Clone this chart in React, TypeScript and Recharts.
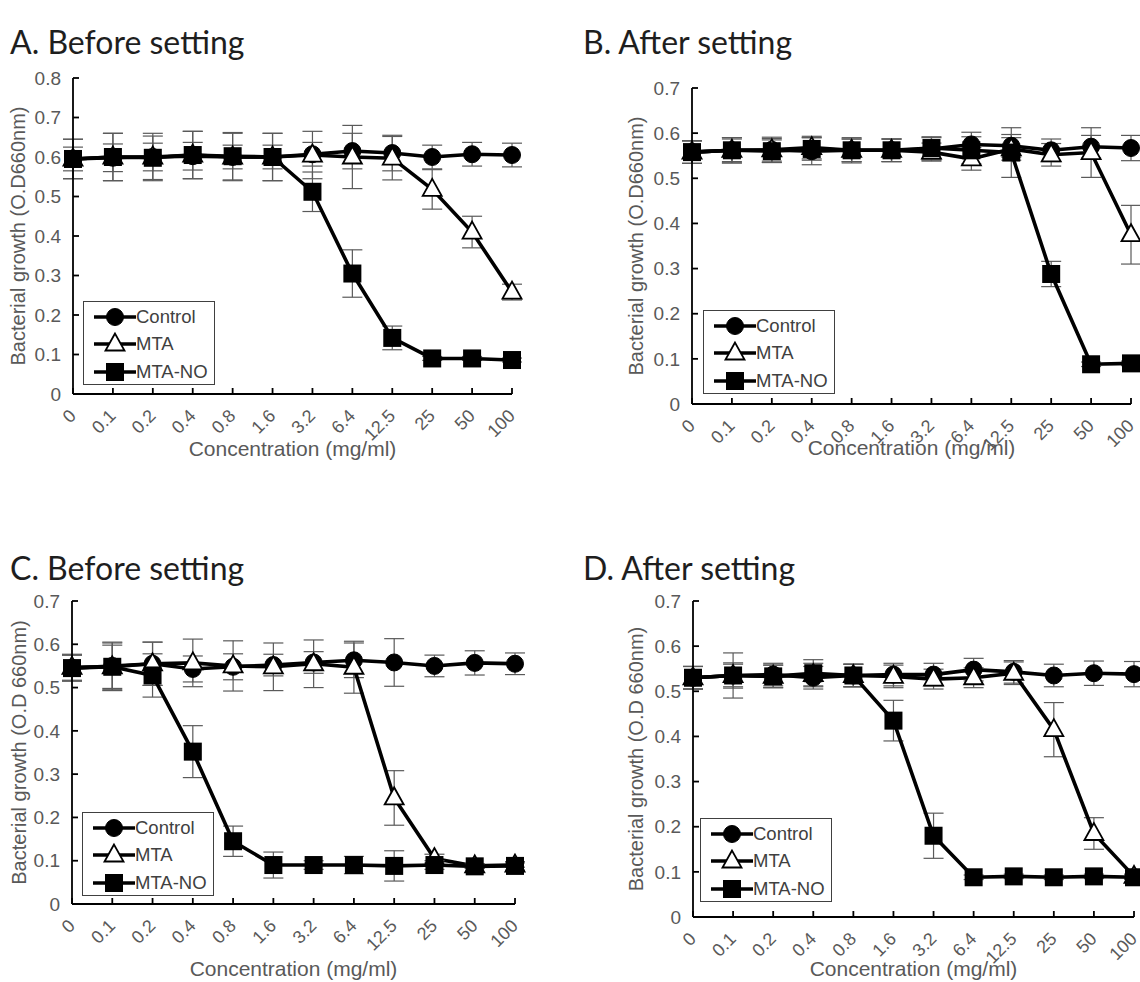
import React from 'react';
import { LineChart, Line, XAxis, YAxis, ErrorBar, Legend } from 'recharts';

// ---- data ----
const concentrations = ['0', '0.1', '0.2', '0.4', '0.8', '1.6', '3.2', '6.4', '12.5', '25', '50', '100'];
const seriesNames = ['Control', 'MTA', 'MTA-NO'];

// A. Before setting
const aControl = [0.595, 0.598, 0.6, 0.602, 0.6, 0.6, 0.607, 0.615, 0.61, 0.6, 0.607, 0.605];
const aControlErr = [0.03, 0.035, 0.035, 0.035, 0.03, 0.03, 0.03, 0.045, 0.045, 0.03, 0.03, 0.03];
const aMta = [0.595, 0.6, 0.6, 0.605, 0.6, 0.6, 0.605, 0.6, 0.597, 0.518, 0.41, 0.258];
const aMtaErr = [0.05, 0.06, 0.06, 0.06, 0.06, 0.06, 0.06, 0.08, 0.055, 0.05, 0.04, 0.02];
const aNo = [0.595, 0.6, 0.598, 0.605, 0.602, 0.6, 0.512, 0.305, 0.142, 0.09, 0.09, 0.086];
const aNoErr = [0.05, 0.06, 0.055, 0.06, 0.06, 0.06, 0.05, 0.06, 0.03, 0.005, 0.005, 0.005];

// B. After setting
const bControl = [0.558, 0.562, 0.563, 0.56, 0.562, 0.562, 0.565, 0.575, 0.572, 0.562, 0.57, 0.567];
const bControlErr = [0.025, 0.028, 0.028, 0.03, 0.028, 0.025, 0.025, 0.027, 0.025, 0.025, 0.025, 0.028];
const bMta = [0.558, 0.562, 0.563, 0.568, 0.562, 0.562, 0.558, 0.543, 0.565, 0.552, 0.557, 0.375];
const bMtaErr = [0.025, 0.025, 0.025, 0.025, 0.025, 0.025, 0.02, 0.025, 0.025, 0.025, 0.055, 0.065];
const bNo = [0.558, 0.562, 0.56, 0.565, 0.562, 0.562, 0.567, 0.562, 0.557, 0.288, 0.088, 0.09];
const bNoErr = [0.025, 0.028, 0.025, 0.025, 0.025, 0.025, 0.025, 0.03, 0.055, 0.028, 0.005, 0.005];

// C. Before setting
const cControl = [0.545, 0.55, 0.555, 0.543, 0.548, 0.552, 0.558, 0.563, 0.558, 0.55, 0.557, 0.555];
const cControlErr = [0.03, 0.055, 0.05, 0.03, 0.03, 0.025, 0.025, 0.04, 0.055, 0.025, 0.028, 0.025];
const cMta = [0.547, 0.548, 0.555, 0.557, 0.55, 0.548, 0.555, 0.547, 0.245, 0.105, 0.088, 0.09];
const cMtaErr = [0.03, 0.055, 0.05, 0.055, 0.058, 0.055, 0.055, 0.06, 0.063, 0.01, 0.005, 0.005];
const cNo = [0.545, 0.548, 0.528, 0.352, 0.145, 0.09, 0.09, 0.09, 0.088, 0.09, 0.087, 0.088];
const cNoErr = [0.03, 0.05, 0.05, 0.06, 0.035, 0.03, 0.01, 0.02, 0.035, 0.01, 0.005, 0.01];

// D. After setting
const dControl = [0.53, 0.535, 0.537, 0.53, 0.535, 0.537, 0.537, 0.548, 0.543, 0.535, 0.54, 0.538];
const dControlErr = [0.025, 0.028, 0.025, 0.025, 0.025, 0.025, 0.025, 0.025, 0.025, 0.025, 0.027, 0.028];
const dMta = [0.53, 0.535, 0.533, 0.537, 0.535, 0.533, 0.527, 0.53, 0.54, 0.415, 0.185, 0.09];
const dMtaErr = [0.025, 0.025, 0.025, 0.025, 0.025, 0.025, 0.022, 0.022, 0.025, 0.06, 0.035, 0.005];
const dNo = [0.53, 0.535, 0.533, 0.54, 0.535, 0.435, 0.18, 0.088, 0.09, 0.088, 0.09, 0.088];
const dNoErr = [0.025, 0.05, 0.025, 0.03, 0.025, 0.045, 0.05, 0.005, 0.005, 0.005, 0.005, 0.005];

const ticksA = [0, 0.1, 0.2, 0.3, 0.4, 0.5, 0.6, 0.7, 0.8];
const ticksBCD = [0, 0.1, 0.2, 0.3, 0.4, 0.5, 0.6, 0.7];

const ARIAL = "'Liberation Sans', Arial, sans-serif";
const TEXT_GREY = '#595959';

const buildRows = (ctrl: number[], ctrlErr: number[], mta: number[], mtaErr: number[], no: number[], noErr: number[]) =>
  concentrations.map((c, i) => ({
    c,
    control: ctrl[i], controlErr: ctrlErr[i],
    mta: mta[i], mtaErr: mtaErr[i],
    no: no[i], noErr: noErr[i],
  }));

// ---- layout (page pixel coords) ----
interface Panel {
  title: string;
  yLabel: string;
  ticks: number[];
  rows: ReturnType<typeof buildRows>;
  box: { left: number; top: number; width: number; height: number };
  plot: { x0: number; x1: number; y0: number; y1: number };
  yTitleX: number;
  xTitleY: number;
  legend: { left: number; top: number };
  titlePos: { left: number; top: number };
}

const panels: Panel[] = [
  {
    title: 'A. Before setting', yLabel: 'Bacterial growth (O.D660nm)', ticks: ticksA,
    rows: buildRows(aControl, aControlErr, aMta, aMtaErr, aNo, aNoErr),
    box: { left: 0, top: 60, width: 540, height: 420 },
    plot: { x0: 73, x1: 512, y0: 78, y1: 394 },
    yTitleX: 18, xTitleY: 448, legend: { left: 83, top: 301 }, titlePos: { left: 10, top: 25 },
  },
  {
    title: 'B. After setting', yLabel: 'Bacterial growth (O.D660nm)', ticks: ticksBCD,
    rows: buildRows(bControl, bControlErr, bMta, bMtaErr, bNo, bNoErr),
    box: { left: 570, top: 60, width: 570, height: 420 },
    plot: { x0: 692, x1: 1131, y0: 88, y1: 404 },
    yTitleX: 636, xTitleY: 447, legend: { left: 703, top: 310 }, titlePos: { left: 583, top: 25 },
  },
  {
    title: 'C. Before setting', yLabel: 'Bacterial growth (O.D 660nm)', ticks: ticksBCD,
    rows: buildRows(cControl, cControlErr, cMta, cMtaErr, cNo, cNoErr),
    box: { left: 0, top: 580, width: 540, height: 402 },
    plot: { x0: 72, x1: 515, y0: 601, y1: 904 },
    yTitleX: 19, xTitleY: 968, legend: { left: 82, top: 812 }, titlePos: { left: 10, top: 551 },
  },
  {
    title: 'D. After setting', yLabel: 'Bacterial growth (O.D 660nm)', ticks: ticksBCD,
    rows: buildRows(dControl, dControlErr, dMta, dMtaErr, dNo, dNoErr),
    box: { left: 570, top: 580, width: 570, height: 402 },
    plot: { x0: 693, x1: 1134, y0: 601, y1: 917 },
    yTitleX: 636, xTitleY: 968, legend: { left: 700, top: 818 }, titlePos: { left: 583, top: 551 },
  },
];

// ---- markers ----
const circleMark = (cx: number, cy: number, key?: string) => (
  <circle key={key} cx={cx} cy={cy} r={8.5} fill="#000" stroke="#000" strokeWidth={1} />
);
const triangleMark = (cx: number, cy: number, key?: string) => (
  <polygon
    key={key}
    points={`${cx},${cy - 10.5} ${cx - 9.5},${cy + 6.5} ${cx + 9.5},${cy + 6.5}`}
    fill="#fff"
    stroke="#000"
    strokeWidth={1.8}
  />
);
const squareMark = (cx: number, cy: number, key?: string) => (
  <rect key={key} x={cx - 9} y={cy - 9} width={18} height={18} fill="#000" />
);
const markers = [circleMark, triangleMark, squareMark];

const makeDot = (idx: number) => (props: any) => {
  const { cx, cy, index } = props;
  if (cx == null || cy == null) return <g key={`e-${idx}-${index}`} />;
  return markers[idx](cx, cy, `m-${idx}-${index}`);
};

const LegendBox = () => (
  <div
    style={{
      width: 132, height: 84, boxSizing: 'border-box', border: '1px solid #404040',
      background: '#fff', paddingTop: 1,
    }}
  >
    {seriesNames.map((name, i) => (
      <div key={name} style={{ display: 'flex', alignItems: 'center', height: 27.5, whiteSpace: 'nowrap' }}>
        <svg width={52} height={26} style={{ display: 'block', flexShrink: 0 }}>
          <line x1={10} x2={52} y1={13} y2={13} stroke="#000" strokeWidth={3.5} />
          {markers[i](31, 13)}
        </svg>
        <span style={{ fontFamily: ARIAL, fontSize: 18.5, color: '#404040', lineHeight: 1, whiteSpace: 'nowrap' }}>
          {name}
        </span>
      </div>
    ))}
  </div>
);

const XTick = (props: any) => {
  const { x, y, payload } = props;
  const tx = x + 4;
  const ty = y;
  return (
    <text
      x={tx}
      y={ty}
      textAnchor="end"
      transform={`rotate(-45 ${tx} ${ty})`}
      fill={TEXT_GREY}
      fontSize={18}
      fontFamily={ARIAL}
    >
      {payload.value}
    </text>
  );
};

const PanelChart = ({ p }: { p: Panel }) => {
  const { box, plot } = p;
  const yAxisWidth = plot.x0 - box.left;
  const xAxisHeight = box.top + box.height - plot.y1;
  const margin = { top: plot.y0 - box.top, right: box.left + box.width - plot.x1, bottom: 0, left: 0 };
  const yMax = p.ticks[p.ticks.length - 1];
  const midY = (plot.y0 + plot.y1) / 2 - box.top;
  const midX = (plot.x0 + plot.x1) / 2 - box.left;

  const yTitle = () => (
    <text
      x={p.yTitleX - box.left}
      y={midY}
      textAnchor="middle"
      dominantBaseline="central"
      transform={`rotate(-90 ${p.yTitleX - box.left} ${midY})`}
      fill={TEXT_GREY}
      fontSize={20}
      fontFamily={ARIAL}
    >
      {p.yLabel}
    </text>
  );
  const xTitle = () => (
    <text
      x={midX}
      y={p.xTitleY - box.top}
      textAnchor="middle"
      dominantBaseline="central"
      fill={TEXT_GREY}
      fontSize={21}
      fontFamily={ARIAL}
    >
      Concentration (mg/ml)
    </text>
  );

  const errProps = { width: 10, strokeWidth: 1.2, stroke: '#5a5a5a', direction: 'y' as const, isAnimationActive: false };

  return (
    <div style={{ position: 'absolute', left: box.left, top: box.top }}>
      <LineChart width={box.width} height={box.height} data={p.rows} margin={margin}>
        <XAxis
          dataKey="c"
          interval={0}
          height={xAxisHeight}
          axisLine={{ stroke: '#000', strokeWidth: 1.8 }}
          tickLine={{ stroke: '#000', strokeWidth: 1.8 }}
          tickSize={-6}
          tickMargin={29}
          tick={<XTick />}
          label={xTitle}
        />
        <YAxis
          type="number"
          domain={[0, yMax]}
          ticks={p.ticks}
          width={yAxisWidth}
          axisLine={{ stroke: '#000', strokeWidth: 1.8 }}
          tickLine={{ stroke: '#000', strokeWidth: 1.8 }}
          tickSize={-6}
          tickMargin={18}
          tick={{ fill: TEXT_GREY, fontSize: 19, fontFamily: ARIAL }}
          label={yTitle}
        />
        <Legend
          layout="vertical"
          align="center"
          verticalAlign="middle"
          content={<LegendBox />}
          wrapperStyle={{ left: p.legend.left - box.left, top: p.legend.top - box.top, width: 132, height: 84 }}
        />
        <Line type="linear" dataKey="control" name="Control" stroke="#000" strokeWidth={3.6}
          dot={makeDot(0)} activeDot={false} isAnimationActive={false}>
          <ErrorBar dataKey="controlErr" {...errProps} />
        </Line>
        <Line type="linear" dataKey="mta" name="MTA" stroke="#000" strokeWidth={3.6}
          dot={makeDot(1)} activeDot={false} isAnimationActive={false}>
          <ErrorBar dataKey="mtaErr" {...errProps} />
        </Line>
        <Line type="linear" dataKey="no" name="MTA-NO" stroke="#000" strokeWidth={3.6}
          dot={makeDot(2)} activeDot={false} isAnimationActive={false}>
          <ErrorBar dataKey="noErr" {...errProps} />
        </Line>
      </LineChart>
    </div>
  );
};

export default function App() {
  return (
    <div style={{ position: 'absolute', left: 0, top: 0, width: 1140, height: 982, background: '#fff', overflow: 'hidden' }}>
      {panels.map((p) => (
        <React.Fragment key={p.title}>
          <div
            style={{
              position: 'absolute', left: p.titlePos.left, top: p.titlePos.top,
              fontFamily: "Lato, 'Open Sans', sans-serif", fontSize: 32, lineHeight: '34px',
              color: '#1e1e1e', whiteSpace: 'nowrap',
            }}
          >
            {p.title}
          </div>
          <PanelChart p={p} />
        </React.Fragment>
      ))}
    </div>
  );
}
